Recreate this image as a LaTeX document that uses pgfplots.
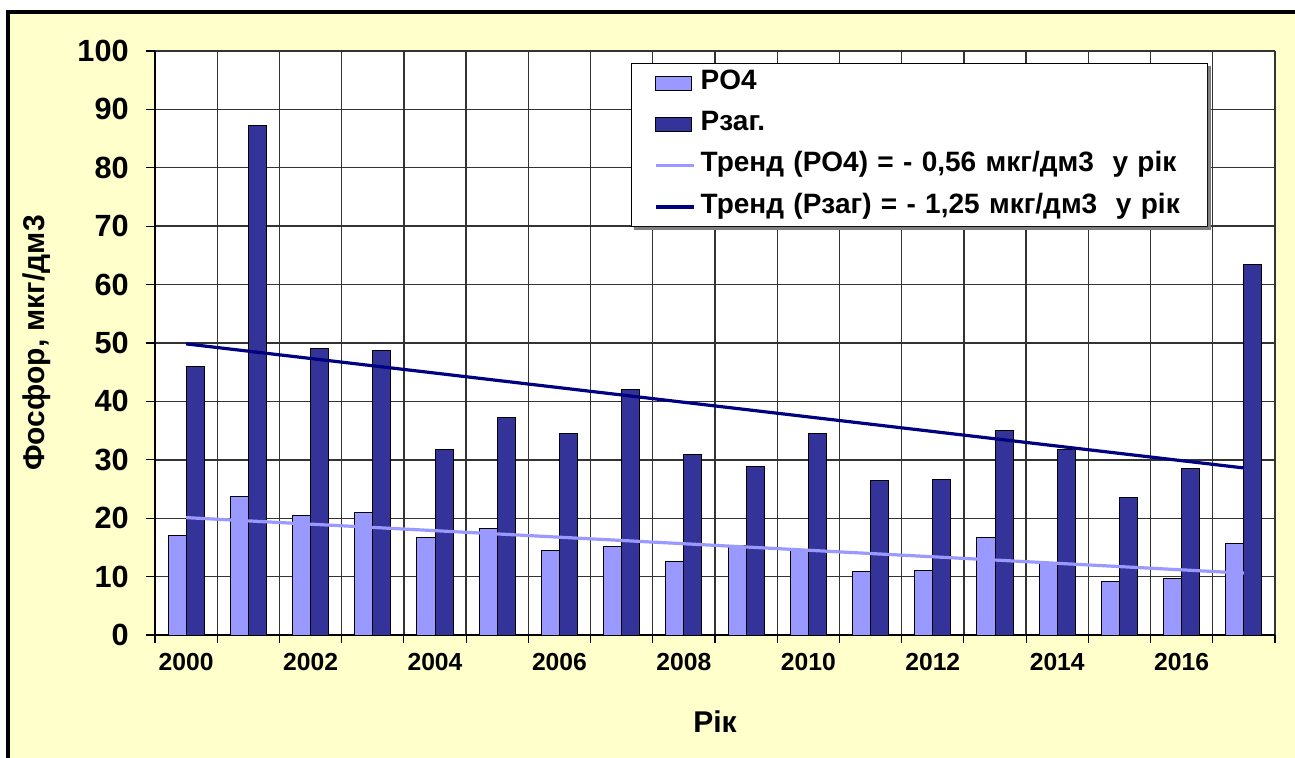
\documentclass[border=0pt]{standalone}
\usepackage{fontspec}
\setmainfont{Liberation Sans}
\usepackage{pgfplots}
\pgfplotsset{compat=1.18}
\definecolor{bg}{HTML}{FFFFCC}
\definecolor{po}{HTML}{9999FF}
\definecolor{pz}{HTML}{333399}
\definecolor{tz}{HTML}{000080}
\definecolor{gridc}{HTML}{333333}
\pgfplotsset{
  barleg/.style={legend image code/.code={\draw[##1,/tikz/.cd,line width=0.75pt] (0pt,-5.25pt) rectangle (27pt,5.25pt);}},
  lineleg/.style={legend image code/.code={\draw[##1,/tikz/.cd] (0pt,0pt) -- (28.5pt,0pt);}},
}
\begin{document}
\begin{tikzpicture}
\path[use as bounding box] (0,0) rectangle (971.25pt,567.75pt);
\clip (0,0) rectangle (971.25pt,567.75pt);
\fill[white] (0,0) rectangle (971.25pt,567.75pt);
\filldraw[fill=bg, draw=black, line width=2.6pt] (6pt,-20pt) rectangle (1000pt,558.75pt);
\begin{axis}[
  at={(116.25pt,91.5pt)}, anchor=south west,
  scale only axis, width=840pt, height=438pt,
  xmin=-0.5, xmax=17.5, ymin=0, ymax=100,
  axis background/.style={fill=white},
  axis x line*=bottom, axis y line*=left,
  axis line style={-, black, line width=1pt},
  tick align=outside,
  major tick length=6.75pt, minor tick length=6pt,
  ytick={0,10,...,100},
  xtick={0,2,...,16},
  xticklabels={2000,2002,2004,2006,2008,2010,2012,2014,2016},
  minor xtick={-0.5,0.5,...,17.5},
  major x tick style={draw=none},
  xmajorgrids=false, xminorgrids=true, ymajorgrids=true,
  grid style={gridc, line width=1.05pt},
  minor grid style={gridc, line width=1.05pt},
  tick style={black, line width=0.8pt},
  /pgf/number format/assume math mode=true,
  yticklabel style={font=\fontsize{23}{25}\selectfont\bfseries, xshift=-9.5pt},
  xticklabel style={font=\fontsize{18.5}{20}\selectfont\bfseries, yshift=-3.75pt},
  ylabel={Фосфор, мкг/дм3},
  ylabel style={font=\fontsize{22.5}{24}\selectfont\bfseries, at={(axis description cs:-0.106,0.5)}, anchor=center},
  xlabel={Рік},
  xlabel style={font=\fontsize{22.5}{24}\selectfont\bfseries, at={(axis description cs:0.5,-0.149)}, anchor=center},
  legend cell align=left,
  legend style={name=leg, at={(0.425,0.979)}, anchor=north west, draw=black, line width=0.75pt, fill=white,
    font=\fontsize{21}{24}\selectfont\bfseries,
    inner xsep=17pt, inner ysep=5pt, row sep=12pt, column sep=4pt,
    nodes={inner sep=0pt, text height=14pt, text depth=5pt, text width=363pt, align=left}},
]
\addplot[ybar, bar width=0.29, bar shift=-0.145, fill=po, draw=black, line width=0.75pt, barleg]
  coordinates {(0,17.0) (1,23.7) (2,20.4) (3,20.9) (4,16.7) (5,18.2) (6,14.4) (7,15.2) (8,12.6) (9,15.4) (10,14.7) (11,10.8) (12,11.1) (13,16.7) (14,12.4) (15,9.1) (16,9.6) (17,15.6)};
\addlegendentry{PO4}
\addplot[ybar, bar width=0.29, bar shift=0.145, fill=pz, draw=black, line width=0.75pt, barleg]
  coordinates {(0,46.0) (1,87.3) (2,49.0) (3,48.7) (4,31.8) (5,37.2) (6,34.5) (7,42.0) (8,30.9) (9,28.9) (10,34.5) (11,26.5) (12,26.7) (13,35.0) (14,31.8) (15,23.5) (16,28.5) (17,63.4)};
\addlegendentry{Рзаг.}
\addplot[sharp plot, no marks, color=po, line width=2.4pt, lineleg]
  coordinates {(0,20.1) (17,10.6)};
\addlegendentry{Тренд (PO4) = - 0,56 мкг/дм3~ у рік}
\addplot[sharp plot, no marks, color=tz, line width=2.4pt, lineleg]
  coordinates {(0,49.85) (17,28.6)};
\addlegendentry{Тренд (Рзаг) = - 1,25 мкг/дм3~ у рік}
\end{axis}
\fill[black!50] ([shift={(0pt,-2.2pt)}]leg.north east) -- ([shift={(2.2pt,-2.2pt)}]leg.north east)
  -- ([shift={(2.2pt,-2.2pt)}]leg.south east) -- ([shift={(2.2pt,-2.2pt)}]leg.south west)
  -- ([shift={(2.2pt,0pt)}]leg.south west) -- (leg.south east) -- cycle;
\end{tikzpicture}
\end{document}
